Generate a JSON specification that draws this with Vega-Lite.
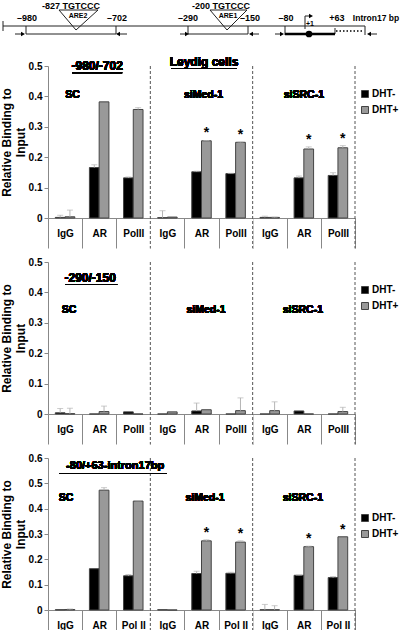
{
  "$schema": "https://vega.github.io/schema/vega-lite/v6.json",
  "background": "white",
  "padding": {"left": 0, "top": 1, "right": 0, "bottom": 0},
  "config": {"view": {"stroke": null}, "font": "Liberation Sans"},
  "datasets": {
    "dg": [
      {"k": "line", "x1": 3, "x2": 365, "y1": 25, "y2": 25},
      {"k": "line", "x1": 3, "x2": 3, "y1": 20, "y2": 30},
      {"k": "line", "x1": 26, "x2": 26, "y1": 25, "y2": 33},
      {"k": "line", "x1": 116, "x2": 116, "y1": 25, "y2": 33},
      {"k": "line", "x1": 26, "x2": 116, "y1": 33, "y2": 33},
      {"k": "line", "x1": 188, "x2": 188, "y1": 25, "y2": 33},
      {"k": "line", "x1": 248, "x2": 248, "y1": 25, "y2": 33},
      {"k": "line", "x1": 188, "x2": 248, "y1": 33, "y2": 33},
      {"k": "line", "x1": 285, "x2": 285, "y1": 25, "y2": 34},
      {"k": "line", "x1": 365, "x2": 365, "y1": 25, "y2": 34},
      {"k": "line", "x1": 335, "x2": 335, "y1": 27, "y2": 33},
      {"k": "line", "x1": 15, "x2": 22, "y1": 33, "y2": 33},
      {"k": "line", "x1": 120, "x2": 127, "y1": 33, "y2": 33},
      {"k": "line", "x1": 180, "x2": 186, "y1": 33, "y2": 33},
      {"k": "line", "x1": 253, "x2": 259, "y1": 33, "y2": 33},
      {"k": "line", "x1": 275, "x2": 281, "y1": 33, "y2": 33},
      {"k": "line", "x1": 371, "x2": 377, "y1": 33, "y2": 33},
      {"k": "line", "x1": 305, "x2": 305, "y1": 15, "y2": 28},
      {"k": "line", "x1": 305, "x2": 310, "y1": 15, "y2": 15},
      {"k": "line", "x1": 59, "x2": 98, "y1": 9, "y2": 9},
      {"k": "line", "x1": 59, "x2": 76, "y1": 9, "y2": 29},
      {"k": "line", "x1": 98, "x2": 76, "y1": 9, "y2": 29},
      {"k": "line", "x1": 210, "x2": 247, "y1": 9, "y2": 9},
      {"k": "line", "x1": 210, "x2": 227, "y1": 9, "y2": 29},
      {"k": "line", "x1": 247, "x2": 227, "y1": 9, "y2": 29},
      {"k": "thick", "x1": 285, "x2": 335, "y1": 33, "y2": 33},
      {"k": "dotted", "x1": 336, "x2": 364, "y1": 30, "y2": 30},
      {"k": "head", "d": "R", "x1": 23, "y1": 33},
      {"k": "head", "d": "L", "x1": 118, "y1": 33},
      {"k": "head", "d": "R", "x1": 187, "y1": 33},
      {"k": "head", "d": "L", "x1": 251, "y1": 33},
      {"k": "head", "d": "R", "x1": 282, "y1": 33},
      {"k": "head", "d": "L", "x1": 369, "y1": 33},
      {"k": "head", "d": "R", "x1": 311, "y1": 15},
      {"k": "circle", "x1": 309, "y1": 33},
      {"k": "txt", "label": "–980", "x1": 27, "y1": 17},
      {"k": "txt", "label": "–702", "x1": 117, "y1": 17},
      {"k": "txt", "label": "–290", "x1": 188, "y1": 17},
      {"k": "txt", "label": "–150", "x1": 250, "y1": 17},
      {"k": "txt", "label": "–80", "x1": 286, "y1": 17},
      {"k": "txt", "label": "+63", "x1": 337, "y1": 17},
      {"k": "itxt", "label": "Intron17 bp", "x1": 376, "y1": 17},
      {"k": "txt", "label": "-827 TGTCCC", "x1": 71, "y1": 4.5},
      {"k": "txt", "label": "-200 TGTCCC", "x1": 221, "y1": 4.5},
      {"k": "stxt", "label": "ARE2", "x1": 78, "y1": 15},
      {"k": "stxt", "label": "ARE1", "x1": 228, "y1": 15},
      {"k": "stxt", "label": "+1", "x1": 310, "y1": 23}
    ],
    "bars": [
      {"p": 1, "g": "SC|IgG", "t": "DHT-", "v": 0.002, "hi": 0.009, "s": 0},
      {"p": 1, "g": "SC|IgG", "t": "DHT+", "v": 0.004, "hi": 0.026, "s": 0},
      {"p": 1, "g": "SC|AR", "t": "DHT-", "v": 0.166, "hi": 0.175, "s": 0},
      {"p": 1, "g": "SC|AR", "t": "DHT+", "v": 0.382, "hi": 0.382, "s": 0},
      {"p": 1, "g": "SC|PolII", "t": "DHT-", "v": 0.132, "hi": 0.135, "s": 0},
      {"p": 1, "g": "SC|PolII", "t": "DHT+", "v": 0.357, "hi": 0.363, "s": 0},
      {"p": 1, "g": "siMed-1|IgG", "t": "DHT-", "v": 0.001, "hi": 0.024, "s": 0},
      {"p": 1, "g": "siMed-1|IgG", "t": "DHT+", "v": 0.003, "hi": 0.003, "s": 0},
      {"p": 1, "g": "siMed-1|AR", "t": "DHT-", "v": 0.152, "hi": 0.154, "s": 0},
      {"p": 1, "g": "siMed-1|AR", "t": "DHT+", "v": 0.254, "hi": 0.255, "s": 1},
      {"p": 1, "g": "siMed-1|PolII", "t": "DHT-", "v": 0.146, "hi": 0.147, "s": 0},
      {"p": 1, "g": "siMed-1|PolII", "t": "DHT+", "v": 0.249, "hi": 0.25, "s": 1},
      {"p": 1, "g": "siSRC-1|IgG", "t": "DHT-", "v": 0.002, "hi": 0.006, "s": 0},
      {"p": 1, "g": "siSRC-1|IgG", "t": "DHT+", "v": 0.002, "hi": 0.003, "s": 0},
      {"p": 1, "g": "siSRC-1|AR", "t": "DHT-", "v": 0.132, "hi": 0.138, "s": 0},
      {"p": 1, "g": "siSRC-1|AR", "t": "DHT+", "v": 0.227, "hi": 0.234, "s": 1},
      {"p": 1, "g": "siSRC-1|PolII", "t": "DHT-", "v": 0.14, "hi": 0.149, "s": 0},
      {"p": 1, "g": "siSRC-1|PolII", "t": "DHT+", "v": 0.231, "hi": 0.238, "s": 1},
      {"p": 2, "g": "SC|IgG", "t": "DHT-", "v": 0.004, "hi": 0.018, "s": 0},
      {"p": 2, "g": "SC|IgG", "t": "DHT+", "v": 0.001, "hi": 0.019, "s": 0},
      {"p": 2, "g": "SC|AR", "t": "DHT-", "v": 0, "hi": 0, "s": 0},
      {"p": 2, "g": "SC|AR", "t": "DHT+", "v": 0.008, "hi": 0.026, "s": 0},
      {"p": 2, "g": "SC|PolII", "t": "DHT-", "v": 0.007, "hi": 0.007, "s": 0},
      {"p": 2, "g": "SC|PolII", "t": "DHT+", "v": 0, "hi": 0, "s": 0},
      {"p": 2, "g": "siMed-1|IgG", "t": "DHT-", "v": 0, "hi": 0, "s": 0},
      {"p": 2, "g": "siMed-1|IgG", "t": "DHT+", "v": 0.007, "hi": 0.007, "s": 0},
      {"p": 2, "g": "siMed-1|AR", "t": "DHT-", "v": 0.01, "hi": 0.036, "s": 0},
      {"p": 2, "g": "siMed-1|AR", "t": "DHT+", "v": 0.014, "hi": 0.014, "s": 0},
      {"p": 2, "g": "siMed-1|PolII", "t": "DHT-", "v": 0, "hi": 0, "s": 0},
      {"p": 2, "g": "siMed-1|PolII", "t": "DHT+", "v": 0.011, "hi": 0.053, "s": 0},
      {"p": 2, "g": "siSRC-1|IgG", "t": "DHT-", "v": 0, "hi": 0, "s": 0},
      {"p": 2, "g": "siSRC-1|IgG", "t": "DHT+", "v": 0.011, "hi": 0.04, "s": 0},
      {"p": 2, "g": "siSRC-1|AR", "t": "DHT-", "v": 0.01, "hi": 0.01, "s": 0},
      {"p": 2, "g": "siSRC-1|AR", "t": "DHT+", "v": 0, "hi": 0, "s": 0},
      {"p": 2, "g": "siSRC-1|PolII", "t": "DHT-", "v": 0, "hi": 0, "s": 0},
      {"p": 2, "g": "siSRC-1|PolII", "t": "DHT+", "v": 0.008, "hi": 0.022, "s": 0},
      {"p": 3, "g": "SC|IgG", "t": "DHT-", "v": 0.001, "hi": 0.001, "s": 0},
      {"p": 3, "g": "SC|IgG", "t": "DHT+", "v": 0.002, "hi": 0.004, "s": 0},
      {"p": 3, "g": "SC|AR", "t": "DHT-", "v": 0.163, "hi": 0.163, "s": 0},
      {"p": 3, "g": "SC|AR", "t": "DHT+", "v": 0.473, "hi": 0.483, "s": 0},
      {"p": 3, "g": "SC|Pol II", "t": "DHT-", "v": 0.135, "hi": 0.14, "s": 0},
      {"p": 3, "g": "SC|Pol II", "t": "DHT+", "v": 0.43, "hi": 0.431, "s": 0},
      {"p": 3, "g": "siMed-1|IgG", "t": "DHT-", "v": 0.001, "hi": 0.001, "s": 0},
      {"p": 3, "g": "siMed-1|IgG", "t": "DHT+", "v": 0, "hi": 0, "s": 0},
      {"p": 3, "g": "siMed-1|AR", "t": "DHT-", "v": 0.144, "hi": 0.153, "s": 0},
      {"p": 3, "g": "siMed-1|AR", "t": "DHT+", "v": 0.273, "hi": 0.277, "s": 1},
      {"p": 3, "g": "siMed-1|Pol II", "t": "DHT-", "v": 0.145, "hi": 0.149, "s": 0},
      {"p": 3, "g": "siMed-1|Pol II", "t": "DHT+", "v": 0.268, "hi": 0.273, "s": 1},
      {"p": 3, "g": "siSRC-1|IgG", "t": "DHT-", "v": 0.001, "hi": 0.022, "s": 0},
      {"p": 3, "g": "siSRC-1|IgG", "t": "DHT+", "v": 0.001, "hi": 0.017, "s": 0},
      {"p": 3, "g": "siSRC-1|AR", "t": "DHT-", "v": 0.137, "hi": 0.138, "s": 0},
      {"p": 3, "g": "siSRC-1|AR", "t": "DHT+", "v": 0.25, "hi": 0.252, "s": 1},
      {"p": 3, "g": "siSRC-1|Pol II", "t": "DHT-", "v": 0.128, "hi": 0.132, "s": 0},
      {"p": 3, "g": "siSRC-1|Pol II", "t": "DHT+", "v": 0.289, "hi": 0.289, "s": 1}
    ]
  },
  "spacing": 25,
  "bounds": "flush",
  "resolve": {"scale": {"x": "independent", "y": "independent", "color": "independent"}, "legend": {"color": "independent"}},
  "vconcat": [
    {
      "width": 307,
      "height": 40,
      "data": {"name": "dg"},
      "encoding": {
        "x": {"field": "x1", "type": "quantitative", "scale": {"domain": [48, 355], "nice": false, "zero": false}, "axis": null},
        "y": {"field": "y1", "type": "quantitative", "scale": {"domain": [0, 40], "reverse": true, "nice": false, "zero": false}, "axis": null}
      },
      "layer": [
        {"transform": [{"filter": "datum.k == 'line'"}], "mark": {"type": "rule", "color": "#222222", "strokeWidth": 1}, "encoding": {"x2": {"field": "x2"}, "y2": {"field": "y2"}}},
        {"transform": [{"filter": "datum.k == 'thick'"}], "mark": {"type": "rule", "color": "#000000", "strokeWidth": 2.5}, "encoding": {"x2": {"field": "x2"}, "y2": {"field": "y2"}}},
        {"transform": [{"filter": "datum.k == 'dotted'"}], "mark": {"type": "rule", "color": "#000000", "strokeWidth": 1.5, "strokeDash": [1.5, 2]}, "encoding": {"x2": {"field": "x2"}, "y2": {"field": "y2"}}},
        {"transform": [{"filter": "datum.k == 'head'"}], "mark": {"type": "point", "filled": true, "color": "#000000", "size": 22, "opacity": 1}, "encoding": {"shape": {"field": "d", "type": "nominal", "scale": {"domain": ["R", "L"], "range": ["triangle-right", "triangle-left"]}, "legend": null}}},
        {"transform": [{"filter": "datum.k == 'circle'"}], "mark": {"type": "circle", "color": "#000000", "size": 45, "opacity": 1}},
        {"transform": [{"filter": "datum.k == 'txt'"}], "mark": {"type": "text", "fontSize": 9, "fontWeight": "bold", "color": "#000000", "baseline": "middle"}, "encoding": {"text": {"field": "label"}}},
        {"transform": [{"filter": "datum.k == 'itxt'"}], "mark": {"type": "text", "fontSize": 8.5, "fontWeight": "bold", "color": "#000000", "baseline": "middle"}, "encoding": {"text": {"field": "label"}}},
        {"transform": [{"filter": "datum.k == 'stxt'"}], "mark": {"type": "text", "fontSize": 7, "fontWeight": "bold", "color": "#000000", "baseline": "middle"}, "encoding": {"text": {"field": "label"}}}
      ]
    },
    {
      "spacing": 44,
      "bounds": "flush",
      "resolve": {"scale": {"x": "independent", "y": "independent", "color": "independent", "xOffset": "independent"}, "legend": {"color": "independent"}},
      "vconcat": [
        {
          "width": 307,
          "height": 152,
          "data": {"name": "bars"},
          "transform": [{"filter": "datum.p == 1"}],
          "encoding": {
            "x": {"field": "g", "type": "nominal", "scale": {"domain": ["SC|IgG", "SC|AR", "SC|PolII", "siMed-1|IgG", "siMed-1|AR", "siMed-1|PolII", "siSRC-1|IgG", "siSRC-1|AR", "siSRC-1|PolII"], "paddingInner": 0, "paddingOuter": 0},
              "axis": {"title": null, "labelExpr": "split(datum.label, '|')[1]", "labelAngle": 0, "tickBand": "extent", "tickSize": 30, "tickColor": "#888888", "domainColor": "#888888", "labelFontSize": 10, "labelFontWeight": "bold", "labelColor": "#000000", "labelPadding": -20}}
          },
          "layer": [
            {"mark": {"type": "bar", "stroke": "#444444", "strokeWidth": 1},
              "encoding": {
                "xOffset": {"field": "t", "type": "nominal", "scale": {"domain": ["DHT-", "DHT+"], "paddingOuter": 0.75, "paddingInner": 0}},
                "y": {"field": "v", "type": "quantitative", "scale": {"domain": [0, 0.5], "nice": false, "zero": true},
                  "axis": {"title": ["Relative Binding to", "Input"], "values": [0, 0.1, 0.2, 0.3, 0.4, 0.5], "tickCount": 12, "format": "~g", "labelOverlap": false, "grid": false, "tickSize": 4, "tickColor": "#888888", "domainColor": "#888888", "labelFontSize": 10, "labelFontWeight": "bold", "labelColor": "#000000", "labelPadding": 2, "titleFontSize": 12, "titleFontWeight": "bold", "titleColor": "#000000", "titlePadding": 1}},
                "color": {"field": "t", "type": "nominal", "scale": {"domain": ["DHT-", "DHT+"], "range": ["#000000", "#999999"]},
                  "legend": {"orient": "none", "legendX": 312, "legendY": 23, "title": null, "symbolType": "square", "symbolSize": 49, "symbolStrokeColor": "#444444", "symbolStrokeWidth": 1, "labelFontSize": 10, "labelFontWeight": "bold", "labelColor": "#000000", "rowPadding": 4, "labelOffset": 2}}
              }},
            {"transform": [{"filter": "datum.hi > datum.v"}], "mark": {"type": "rule", "color": "#b5b5b5", "strokeWidth": 1},
              "encoding": {"xOffset": {"field": "t", "type": "nominal"}, "y": {"field": "v", "type": "quantitative"}, "y2": {"field": "hi"}}},
            {"transform": [{"filter": "datum.hi > datum.v"}], "mark": {"type": "tick", "color": "#b5b5b5", "size": 6, "thickness": 1},
              "encoding": {"xOffset": {"field": "t", "type": "nominal"}, "y": {"field": "hi", "type": "quantitative"}}},
            {"transform": [{"filter": "datum.s == 1"}], "mark": {"type": "text", "text": "*", "fontSize": 14, "fontWeight": "bold", "color": "#000000", "baseline": "middle", "dy": -7},
              "encoding": {"xOffset": {"field": "t", "type": "nominal"}, "y": {"field": "hi", "type": "quantitative"}}},
            {"transform": [{"filter": "datum.t == 'DHT-' && (datum.g == 'siMed-1|IgG' || datum.g == 'siSRC-1|IgG')"}], "mark": {"type": "rule", "color": "#ffffff", "strokeWidth": 2},
              "encoding": {"x": {"field": "g", "type": "nominal", "bandPosition": 0}, "y": {"datum": -0.003}, "y2": {"datum": -0.1}}},
            {"transform": [{"filter": "datum.t == 'DHT-' && (datum.g == 'siMed-1|IgG' || datum.g == 'siSRC-1|IgG')"}], "mark": {"type": "rule", "color": "#555555", "strokeWidth": 1, "strokeDash": [3, 2]},
              "encoding": {"x": {"field": "g", "type": "nominal", "bandPosition": 0}, "y": {"datum": 0.5}, "y2": {"datum": -0.1}}},
            {"transform": [{"filter": "datum.t == 'DHT-' && datum.g == 'siSRC-1|PolII'"}], "mark": {"type": "rule", "color": "#555555", "strokeWidth": 1, "strokeDash": [3, 2]},
              "encoding": {"x": {"field": "g", "type": "nominal", "bandPosition": 1}, "y": {"datum": 0.5}, "y2": {"datum": -0.1}}},
            {"mark": {"type": "text", "text": "-980/-702", "fontSize": 12, "fontWeight": "bold", "color": "#000000", "baseline": "middle", "dx": -2}, "encoding": {"x": {"datum": "SC|AR"}, "y": {"datum": 0.5}}},
            {"mark": {"type": "tick", "size": 50, "thickness": 1, "color": "#000000", "xOffset": -2}, "encoding": {"x": {"datum": "SC|AR"}, "y": {"datum": 0.478}}},
            {"mark": {"type": "text", "text": "Leydig cells", "fontSize": 12, "fontWeight": "bold", "color": "#000000", "baseline": "middle", "dx": 2.5}, "encoding": {"x": {"datum": "siMed-1|AR"}, "y": {"datum": 0.512}}},
            {"mark": {"type": "tick", "size": 65, "thickness": 1, "color": "#000000", "xOffset": 2.5}, "encoding": {"x": {"datum": "siMed-1|AR"}, "y": {"datum": 0.492}}},
            {"mark": {"type": "text", "text": "SC", "fontSize": 10.5, "fontWeight": "bold", "color": "#000000", "baseline": "middle", "dx": 7.5}, "encoding": {"x": {"datum": "SC|IgG"}, "y": {"datum": 0.405}}},
            {"mark": {"type": "text", "text": "siMed-1", "fontSize": 10.5, "fontWeight": "bold", "color": "#000000", "baseline": "middle", "dx": 2}, "encoding": {"x": {"datum": "siMed-1|AR"}, "y": {"datum": 0.405}}},
            {"mark": {"type": "text", "text": "siSRC-1", "fontSize": 10.5, "fontWeight": "bold", "color": "#000000", "baseline": "middle"}, "encoding": {"x": {"datum": "siSRC-1|AR"}, "y": {"datum": 0.405}}}
          ]
        },
        {
          "width": 307,
          "height": 152,
          "data": {"name": "bars"},
          "transform": [{"filter": "datum.p == 2"}],
          "encoding": {
            "x": {"field": "g", "type": "nominal", "scale": {"domain": ["SC|IgG", "SC|AR", "SC|PolII", "siMed-1|IgG", "siMed-1|AR", "siMed-1|PolII", "siSRC-1|IgG", "siSRC-1|AR", "siSRC-1|PolII"], "paddingInner": 0, "paddingOuter": 0},
              "axis": {"title": null, "labelExpr": "split(datum.label, '|')[1]", "labelAngle": 0, "tickBand": "extent", "tickSize": 30, "tickColor": "#888888", "domainColor": "#888888", "labelFontSize": 10, "labelFontWeight": "bold", "labelColor": "#000000", "labelPadding": -20}}
          },
          "layer": [
            {"mark": {"type": "bar", "stroke": "#444444", "strokeWidth": 1},
              "encoding": {
                "xOffset": {"field": "t", "type": "nominal", "scale": {"domain": ["DHT-", "DHT+"], "paddingOuter": 0.75, "paddingInner": 0}},
                "y": {"field": "v", "type": "quantitative", "scale": {"domain": [0, 0.5], "nice": false, "zero": true},
                  "axis": {"title": ["Relative Binding to", "Input"], "values": [0, 0.1, 0.2, 0.3, 0.4, 0.5], "tickCount": 12, "format": "~g", "labelOverlap": false, "grid": false, "tickSize": 4, "tickColor": "#888888", "domainColor": "#888888", "labelFontSize": 10, "labelFontWeight": "bold", "labelColor": "#000000", "labelPadding": 2, "titleFontSize": 12, "titleFontWeight": "bold", "titleColor": "#000000", "titlePadding": 1}},
                "color": {"field": "t", "type": "nominal", "scale": {"domain": ["DHT-", "DHT+"], "range": ["#000000", "#999999"]},
                  "legend": {"orient": "none", "legendX": 312, "legendY": 23, "title": null, "symbolType": "square", "symbolSize": 49, "symbolStrokeColor": "#444444", "symbolStrokeWidth": 1, "labelFontSize": 10, "labelFontWeight": "bold", "labelColor": "#000000", "rowPadding": 4, "labelOffset": 2}}
              }},
            {"transform": [{"filter": "datum.hi > datum.v"}], "mark": {"type": "rule", "color": "#b5b5b5", "strokeWidth": 1},
              "encoding": {"xOffset": {"field": "t", "type": "nominal"}, "y": {"field": "v", "type": "quantitative"}, "y2": {"field": "hi"}}},
            {"transform": [{"filter": "datum.hi > datum.v"}], "mark": {"type": "tick", "color": "#b5b5b5", "size": 6, "thickness": 1},
              "encoding": {"xOffset": {"field": "t", "type": "nominal"}, "y": {"field": "hi", "type": "quantitative"}}},
            {"transform": [{"filter": "datum.t == 'DHT-' && (datum.g == 'siMed-1|IgG' || datum.g == 'siSRC-1|IgG')"}], "mark": {"type": "rule", "color": "#ffffff", "strokeWidth": 2},
              "encoding": {"x": {"field": "g", "type": "nominal", "bandPosition": 0}, "y": {"datum": -0.003}, "y2": {"datum": -0.1}}},
            {"transform": [{"filter": "datum.t == 'DHT-' && (datum.g == 'siMed-1|IgG' || datum.g == 'siSRC-1|IgG')"}], "mark": {"type": "rule", "color": "#555555", "strokeWidth": 1, "strokeDash": [3, 2]},
              "encoding": {"x": {"field": "g", "type": "nominal", "bandPosition": 0}, "y": {"datum": 0.5}, "y2": {"datum": -0.1}}},
            {"transform": [{"filter": "datum.t == 'DHT-' && datum.g == 'siSRC-1|PolII'"}], "mark": {"type": "rule", "color": "#555555", "strokeWidth": 1, "strokeDash": [3, 2]},
              "encoding": {"x": {"field": "g", "type": "nominal", "bandPosition": 1}, "y": {"datum": 0.5}, "y2": {"datum": -0.1}}},
            {"mark": {"type": "text", "text": "-290/-150", "fontSize": 12, "fontWeight": "bold", "color": "#000000", "baseline": "middle", "dx": -9}, "encoding": {"x": {"datum": "SC|AR"}, "y": {"datum": 0.447}}},
            {"mark": {"type": "tick", "size": 52, "thickness": 1, "color": "#000000", "xOffset": -8}, "encoding": {"x": {"datum": "SC|AR"}, "y": {"datum": 0.426}}},
            {"mark": {"type": "text", "text": "SC", "fontSize": 10.5, "fontWeight": "bold", "color": "#000000", "baseline": "middle", "dx": 4}, "encoding": {"x": {"datum": "SC|IgG"}, "y": {"datum": 0.343}}},
            {"mark": {"type": "text", "text": "siMed-1", "fontSize": 10.5, "fontWeight": "bold", "color": "#000000", "baseline": "middle", "dx": 4.5}, "encoding": {"x": {"datum": "siMed-1|AR"}, "y": {"datum": 0.343}}},
            {"mark": {"type": "text", "text": "siSRC-1", "fontSize": 10.5, "fontWeight": "bold", "color": "#000000", "baseline": "middle", "dx": -1}, "encoding": {"x": {"datum": "siSRC-1|AR"}, "y": {"datum": 0.343}}}
          ]
        },
        {
          "width": 307,
          "height": 152,
          "data": {"name": "bars"},
          "transform": [{"filter": "datum.p == 3"}],
          "encoding": {
            "x": {"field": "g", "type": "nominal", "scale": {"domain": ["SC|IgG", "SC|AR", "SC|Pol II", "siMed-1|IgG", "siMed-1|AR", "siMed-1|Pol II", "siSRC-1|IgG", "siSRC-1|AR", "siSRC-1|Pol II"], "paddingInner": 0, "paddingOuter": 0},
              "axis": {"title": null, "labelExpr": "split(datum.label, '|')[1]", "labelAngle": 0, "tickBand": "extent", "tickSize": 30, "tickColor": "#888888", "domainColor": "#888888", "labelFontSize": 10, "labelFontWeight": "bold", "labelColor": "#000000", "labelPadding": -20}}
          },
          "layer": [
            {"mark": {"type": "bar", "stroke": "#444444", "strokeWidth": 1},
              "encoding": {
                "xOffset": {"field": "t", "type": "nominal", "scale": {"domain": ["DHT-", "DHT+"], "paddingOuter": 0.75, "paddingInner": 0}},
                "y": {"field": "v", "type": "quantitative", "scale": {"domain": [0, 0.6], "nice": false, "zero": true},
                  "axis": {"title": ["Relative Binding to", "Input"], "values": [0, 0.1, 0.2, 0.3, 0.4, 0.5, 0.6], "tickCount": 12, "format": "~g", "labelOverlap": false, "grid": false, "tickSize": 4, "tickColor": "#888888", "domainColor": "#888888", "labelFontSize": 10, "labelFontWeight": "bold", "labelColor": "#000000", "labelPadding": 2, "titleFontSize": 12, "titleFontWeight": "bold", "titleColor": "#000000", "titlePadding": 1}},
                "color": {"field": "t", "type": "nominal", "scale": {"domain": ["DHT-", "DHT+"], "range": ["#000000", "#999999"]},
                  "legend": {"orient": "none", "legendX": 312, "legendY": 55, "title": null, "symbolType": "square", "symbolSize": 49, "symbolStrokeColor": "#444444", "symbolStrokeWidth": 1, "labelFontSize": 10, "labelFontWeight": "bold", "labelColor": "#000000", "rowPadding": 4, "labelOffset": 2}}
              }},
            {"transform": [{"filter": "datum.hi > datum.v"}], "mark": {"type": "rule", "color": "#b5b5b5", "strokeWidth": 1},
              "encoding": {"xOffset": {"field": "t", "type": "nominal"}, "y": {"field": "v", "type": "quantitative"}, "y2": {"field": "hi"}}},
            {"transform": [{"filter": "datum.hi > datum.v"}], "mark": {"type": "tick", "color": "#b5b5b5", "size": 6, "thickness": 1},
              "encoding": {"xOffset": {"field": "t", "type": "nominal"}, "y": {"field": "hi", "type": "quantitative"}}},
            {"transform": [{"filter": "datum.s == 1"}], "mark": {"type": "text", "text": "*", "fontSize": 14, "fontWeight": "bold", "color": "#000000", "baseline": "middle", "dy": -7},
              "encoding": {"xOffset": {"field": "t", "type": "nominal"}, "y": {"field": "hi", "type": "quantitative"}}},
            {"transform": [{"filter": "datum.t == 'DHT-' && (datum.g == 'siMed-1|IgG' || datum.g == 'siSRC-1|IgG')"}], "mark": {"type": "rule", "color": "#ffffff", "strokeWidth": 2},
              "encoding": {"x": {"field": "g", "type": "nominal", "bandPosition": 0}, "y": {"datum": -0.003}, "y2": {"datum": -0.083}}},
            {"transform": [{"filter": "datum.t == 'DHT-' && (datum.g == 'siMed-1|IgG' || datum.g == 'siSRC-1|IgG')"}], "mark": {"type": "rule", "color": "#555555", "strokeWidth": 1, "strokeDash": [3, 2]},
              "encoding": {"x": {"field": "g", "type": "nominal", "bandPosition": 0}, "y": {"datum": 0.6}, "y2": {"datum": -0.083}}},
            {"transform": [{"filter": "datum.t == 'DHT-' && datum.g == 'siSRC-1|Pol II'"}], "mark": {"type": "rule", "color": "#555555", "strokeWidth": 1, "strokeDash": [3, 2]},
              "encoding": {"x": {"field": "g", "type": "nominal", "bandPosition": 1}, "y": {"datum": 0.6}, "y2": {"datum": -0.083}}},
            {"mark": {"type": "text", "text": "-80/+63-intron17bp", "fontSize": 11, "fontWeight": "bold", "color": "#000000", "baseline": "middle", "dx": 16}, "encoding": {"x": {"datum": "SC|AR"}, "y": {"datum": 0.568}}},
            {"mark": {"type": "tick", "size": 107, "thickness": 1, "color": "#000000", "xOffset": 14}, "encoding": {"x": {"datum": "SC|AR"}, "y": {"datum": 0.539}}},
            {"mark": {"type": "text", "text": "SC", "fontSize": 10.5, "fontWeight": "bold", "color": "#000000", "baseline": "middle", "dx": 1}, "encoding": {"x": {"datum": "SC|IgG"}, "y": {"datum": 0.442}}},
            {"mark": {"type": "text", "text": "siMed-1", "fontSize": 10.5, "fontWeight": "bold", "color": "#000000", "baseline": "middle", "dx": 3.5}, "encoding": {"x": {"datum": "siMed-1|AR"}, "y": {"datum": 0.442}}},
            {"mark": {"type": "text", "text": "siSRC-1", "fontSize": 10.5, "fontWeight": "bold", "color": "#000000", "baseline": "middle", "dx": -1}, "encoding": {"x": {"datum": "siSRC-1|AR"}, "y": {"datum": 0.442}}}
          ]
        }
      ]
    }
  ]
}
